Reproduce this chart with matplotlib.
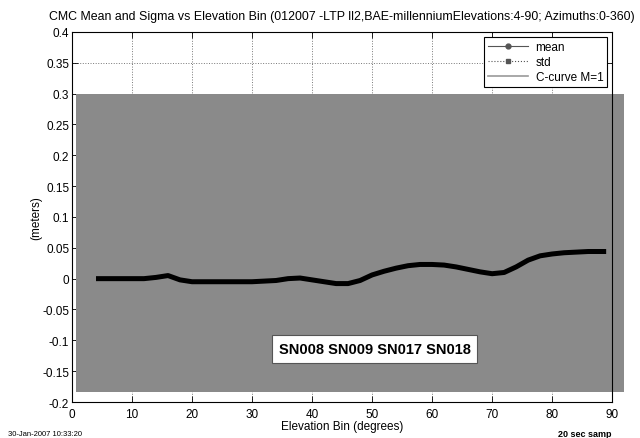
import matplotlib
matplotlib.use("Agg")
import matplotlib.pyplot as plt
from matplotlib.lines import Line2D

plt.rcParams['font.family'] = ['Liberation Sans', 'DejaVu Sans']

elev = [4, 6, 8, 10, 12, 14, 16, 18, 20, 22, 24, 26, 28, 30, 32, 34, 36, 38, 40, 42, 44, 46, 48,
        50, 52, 54, 56, 58, 60, 62, 64, 66, 68, 70, 72, 74, 76, 78, 80, 82, 84, 86, 88, 89]
mean = [0.000, 0.000, 0.000, 0.000, 0.000, 0.002, 0.005, -0.002, -0.005, -0.005, -0.005, -0.005,
        -0.005, -0.005, -0.004, -0.003, 0.000, 0.001, -0.002, -0.005, -0.008, -0.008, -0.003,
        0.006, 0.012, 0.017, 0.021, 0.023, 0.023, 0.022, 0.019, 0.015, 0.011, 0.008, 0.010,
        0.019, 0.030, 0.037, 0.040, 0.042, 0.043, 0.044, 0.044, 0.044]

band_x = [0.7, 92.0]
band_low = [-0.184, -0.184]
band_high = [0.3, 0.3]

xticks = [0, 10, 20, 30, 40, 50, 60, 70, 80, 90]
yticks = [-0.2, -0.15, -0.1, -0.05, 0, 0.05, 0.1, 0.15, 0.2, 0.25, 0.3, 0.35, 0.4]
ytick_labels = ['-0.2', '-0.15', '-0.1', '-0.05', '0', '0.05', '0.1', '0.15', '0.2', '0.25',
                '0.3', '0.35', '0.4']

fig = plt.figure(figsize=(6.4, 4.39), dpi=100)
ax = fig.add_axes([0.1125, 0.082, 0.844, 0.843])

ax.fill_between(band_x, band_low, band_high, color='#8a8a8a', lw=0, clip_on=False, zorder=1)
ax.plot(elev, mean, color='black', lw=3.6, solid_capstyle='butt', zorder=3)

ax.set_xlim(0, 90)
ax.set_ylim(-0.2, 0.4)
ax.set_xticks(xticks)
ax.set_yticks(yticks)
ax.set_yticklabels(ytick_labels)
ax.tick_params(direction='in', top=True, right=True, labelsize=8.5, length=4, width=0.6, pad=2)
ax.tick_params(axis='x', pad=4)
ax.grid(True, linestyle=':', color='#777777', lw=0.7)
ax.set_axisbelow(True)
for s in ax.spines.values():
    s.set_linewidth(0.8)
    s.set_zorder(4)

ax.set_title('CMC Mean and Sigma vs Elevation Bin (012007 -LTP ll2,BAE-millenniumElevations:4-90; Azimuths:0-360)',
             fontsize=8.9, pad=9)
ax.set_xlabel('Elevation Bin (degrees)', fontsize=8.5, labelpad=0)
ax.set_ylabel('(meters)', fontsize=8.5, labelpad=0)

handles = [Line2D([], [], color='#555555', lw=0.8, marker='o', markersize=3.5),
           Line2D([], [], color='#555555', lw=0.8, ls=':', marker='s', markersize=3.5),
           Line2D([], [], color='#999999', lw=1.2)]
leg = ax.legend(handles, ['mean', 'std', 'C-curve M=1'], loc='upper right', fontsize=8.5,
                fancybox=False, framealpha=1, edgecolor='black', borderaxespad=0.4,
                handlelength=3.4, labelspacing=0.25, borderpad=0.35, handletextpad=0.6)
leg.get_frame().set_linewidth(0.8)
leg.set_zorder(5)

ax.text(50.4, -0.114, 'SN008 SN009 SN017 SN018', fontsize=10.5, fontweight='bold',
        ha='center', va='center', zorder=6,
        bbox=dict(boxstyle='square,pad=0.45', facecolor='white', edgecolor='#555555', lw=0.8))

fig.text(0.012, 0.003, '30-Jan-2007 10:33:20', fontsize=5.5, ha='left', va='bottom')
fig.text(0.955, 0.0, '20 sec samp', fontsize=6.5, fontweight='bold', ha='right', va='bottom')

fig.savefig('out.png', dpi=100)
